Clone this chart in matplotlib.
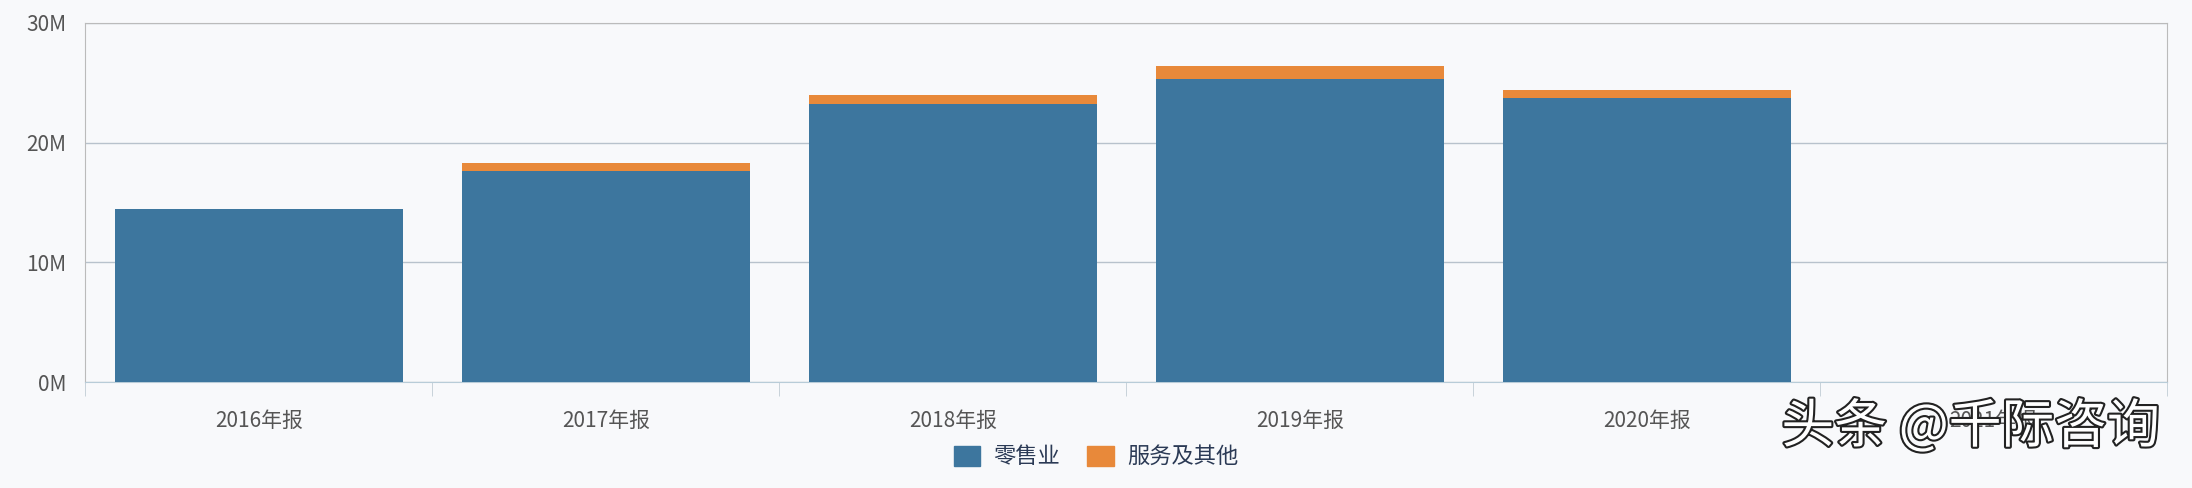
import matplotlib
matplotlib.use("Agg")
import matplotlib.pyplot as plt
import matplotlib.patheffects as pe
from matplotlib.patches import Patch
from matplotlib.ticker import FuncFormatter, FixedLocator
import numpy as np

plt.rcParams['font.family'] = ['Noto Sans CJK SC', 'DejaVu Sans']

categories = ["2016年报", "2017年报", "2018年报", "2019年报", "2020年报", "2021年报"]
retail = [14.5e6, 17.6e6, 23.2e6, 25.3e6, 23.7e6, 0]
services = [0.0, 0.7e6, 0.8e6, 1.1e6, 0.7e6, 0]

bg = "#f8f9fb"
fig = plt.figure(figsize=(21.92, 4.88), dpi=100, facecolor=bg)
ax = fig.add_axes([0.039, 0.217, 0.9496, 0.736], facecolor=bg)
x = np.arange(len(categories))
ax.bar(x, retail, width=0.83, color="#3d769e", zorder=3)
ax.bar(x, services, width=0.83, bottom=retail, color="#e8893a", zorder=3)
ax.set_xlim(-0.5, len(categories) - 0.5)
ax.set_ylim(0, 30e6)
ax.set_yticks([0, 10e6, 20e6, 30e6])
ax.yaxis.set_major_formatter(FuncFormatter(lambda v, p: f"{int(v/1e6)}M"))
ax.grid(axis="y", color="#b8c2cc", lw=1, zorder=0)
for s in ["left", "right", "top"]:
    ax.spines[s].set_color("#bbbbbb")
ax.spines["bottom"].set_color("#b8ccd8")
ax.tick_params(axis="y", length=0, labelsize=15, labelcolor="#555555", pad=14)
ax.set_xticks(x)
ax.set_xticklabels(categories, fontsize=15, color="#555555")
ax.tick_params(axis="x", length=0, pad=20)
ax.xaxis.set_minor_locator(FixedLocator(np.arange(-0.5, len(categories), 1.0)))
ax.tick_params(axis="x", which="minor", length=10, color="#c0ccd4")

fig.legend(handles=[Patch(color="#3d769e", label="零售业"), Patch(color="#e8893a", label="服务及其他")],
           loc="center", bbox_to_anchor=(0.5, 0.064), ncol=2, frameon=False,
           fontsize=16, labelcolor="#2b3a55", handlelength=1.2, handleheight=1.0,
           columnspacing=1.2, handletextpad=0.6)

fig.text(0.899, 0.125, "头条 @千际咨询", fontsize=38, color="white", ha="center", va="center",
         path_effects=[pe.withStroke(linewidth=3, foreground="#222222")])
fig.savefig("out.png", dpi=100, facecolor=bg)
